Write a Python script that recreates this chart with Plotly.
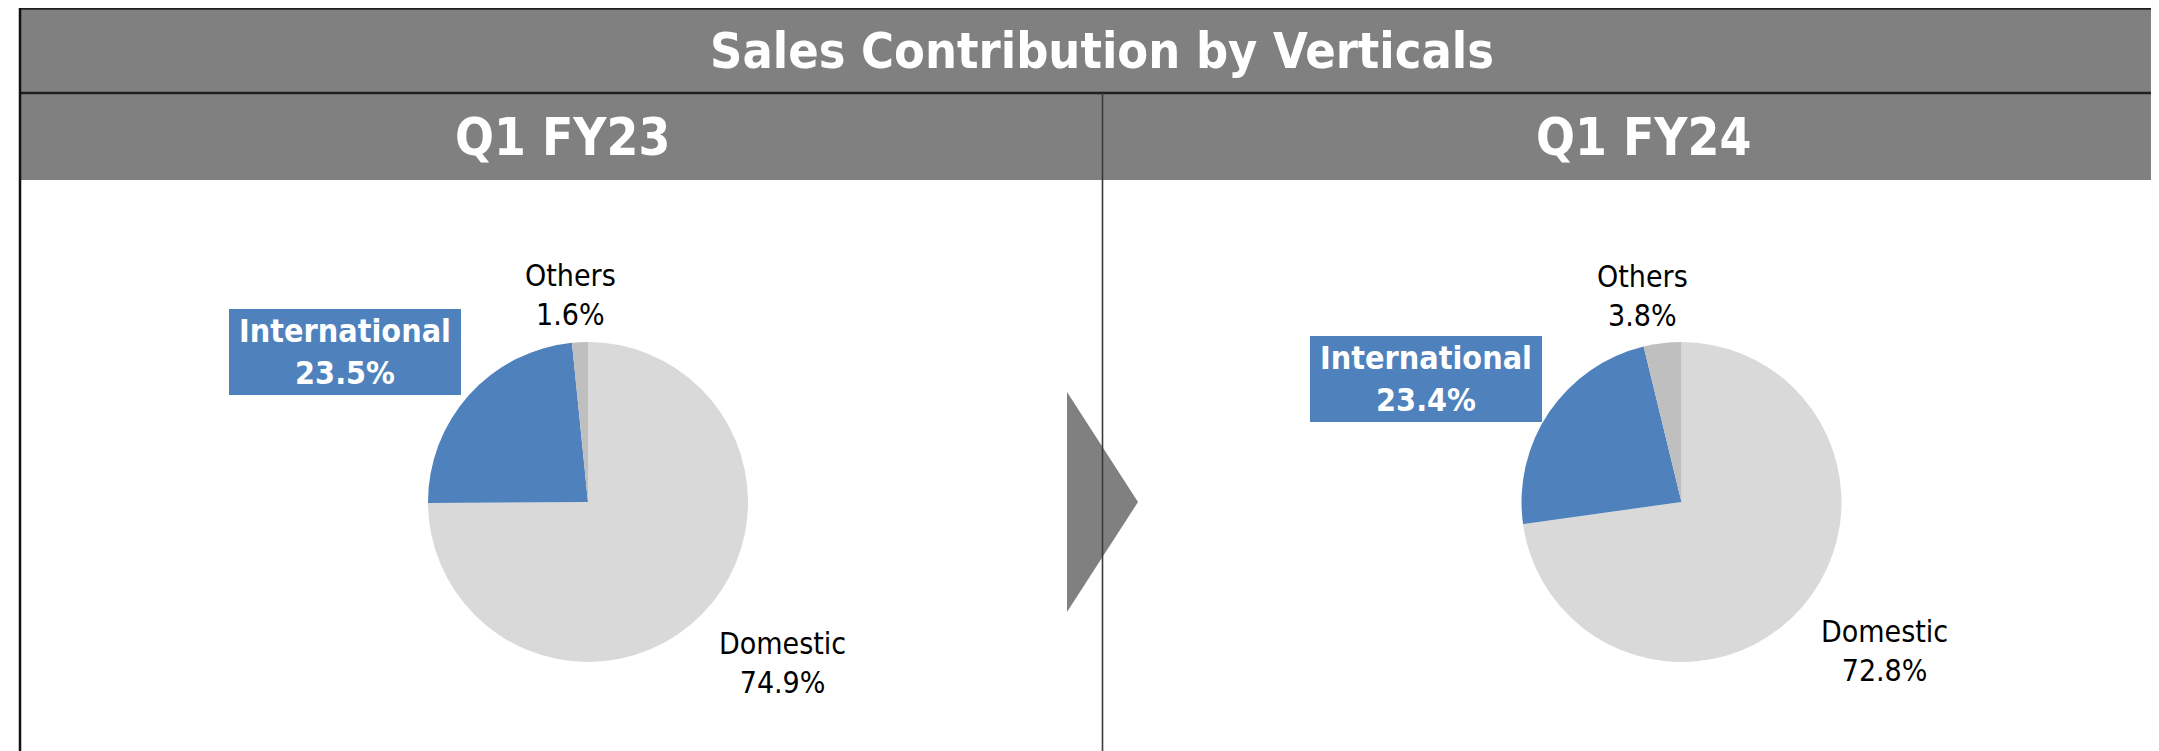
import plotly.graph_objects as go

W, H = 2159, 751
OFF = 8  # page body margin of the browser

# ---- data ----
chart_title = "Sales Contribution by Verticals"
periods = ["Q1 FY23", "Q1 FY24"]
categories = ["Others", "International", "Domestic"]
share_fy23 = [1.6, 23.5, 74.9]
share_fy24 = [3.8, 23.4, 72.8]
slice_colors = ["#BFBFBF", "#4F81BD", "#D9D9D9"]

FONT = "DejaVu Sans Condensed, DejaVu Sans, sans-serif"
BAND = "#808080"
LINE = "#1f1f1f"


def fx(x):
    return (x - OFF) / W


def fy(y):
    return 1 - (y - OFF) / H


fig = go.Figure()

# pie layout (screen pixel centres, radius)
pie_centres = [(588, 502), (1681.5, 502)]
R = 160
series = [share_fy23, share_fy24]

for (cx, cy), vals, name in zip(pie_centres, series, periods):
    fig.add_trace(go.Pie(
        labels=categories[::-1],
        values=vals[::-1],
        name=name,
        sort=False,
        direction="clockwise",
        rotation=0,
        marker=dict(colors=slice_colors[::-1], line=dict(width=0)),
        textinfo="none",
        hoverinfo="label+percent",
        domain=dict(x=[fx(cx - R), fx(cx + R)], y=[fy(cy + R), fy(cy - R)]),
        showlegend=False,
    ))

shapes = []
# header bands
shapes.append(dict(type="rect", xref="paper", yref="paper",
                   x0=fx(20), x1=fx(W + 20), y0=fy(93), y1=fy(7),
                   fillcolor=BAND, line=dict(width=0), layer="below"))
shapes.append(dict(type="rect", xref="paper", yref="paper",
                   x0=fx(20), x1=fx(W + 20), y0=fy(180), y1=fy(93),
                   fillcolor=BAND, line=dict(width=0), layer="below"))
# horizontal lines
shapes.append(dict(type="line", xref="paper", yref="paper",
                   x0=fx(20), x1=fx(W + 20), y0=fy(8.8), y1=fy(8.8),
                   line=dict(color=LINE, width=2)))
shapes.append(dict(type="line", xref="paper", yref="paper",
                   x0=fx(20), x1=fx(W + 20), y0=fy(93), y1=fy(93),
                   line=dict(color=LINE, width=2.5)))
# arrow
shapes.append(dict(type="path", xref="paper", yref="paper",
                   path=f"M {fx(1067)},{fy(392)} L {fx(1138)},{fy(502)} L {fx(1067)},{fy(612)} Z",
                   fillcolor=BAND, line=dict(width=0)))
# left border
shapes.append(dict(type="line", xref="paper", yref="paper",
                   x0=fx(20), x1=fx(20), y0=fy(7), y1=fy(H + 20),
                   line=dict(color="#111111", width=2.5)))
# divider
shapes.append(dict(type="line", xref="paper", yref="paper",
                   x0=fx(1102.5), x1=fx(1102.5), y0=fy(93), y1=fy(H + 20),
                   line=dict(color="#3a3a3a", width=1.6)))

annotations = []
annotations.append(dict(text=f"<b>{chart_title}</b>", x=fx(1102), y=fy(51),
                        xref="paper", yref="paper", showarrow=False,
                        xanchor="center", yanchor="middle",
                        font=dict(family=FONT, size=50, color="white")))
for px_, per in zip([562, 1643], periods):
    annotations.append(dict(text=f"<b>{per}</b>", x=fx(px_), y=fy(137),
                            xref="paper", yref="paper", showarrow=False,
                            xanchor="center", yanchor="middle",
                            font=dict(family=FONT, size=51, color="white")))

label_pos = [
    {"Others": (570, 295), "International": (345, 352), "Domestic": (782, 663)},
    {"Others": (1642, 296), "International": (1426, 379), "Domestic": (1884, 651)},
]

for vals, pos in zip(series, label_pos):
    for cat, v in zip(categories, vals):
        x_, y_ = pos[cat]
        if cat == "International":
            annotations.append(dict(
                text=f"<b>{cat}<br>{v:.1f}%</b>", x=fx(x_), y=fy(y_),
                xref="paper", yref="paper", showarrow=False,
                xanchor="center", yanchor="middle",
                width=220, height=74, borderpad=6,
                bgcolor="#4F81BD", borderwidth=0,
                font=dict(family=FONT, size=32, color="white")))
        else:
            annotations.append(dict(
                text=f"{cat}<br>{v:.1f}%", x=fx(x_), y=fy(y_),
                xref="paper", yref="paper", showarrow=False,
                xanchor="center", yanchor="middle",
                font=dict(family=FONT, size=30, color="black")))

fig.update_layout(
    width=W, height=H,
    margin=dict(l=0, r=0, t=0, b=0),
    paper_bgcolor="white", plot_bgcolor="white",
    shapes=shapes, annotations=annotations,
    showlegend=False,
)

fig.write_html("out.html")
